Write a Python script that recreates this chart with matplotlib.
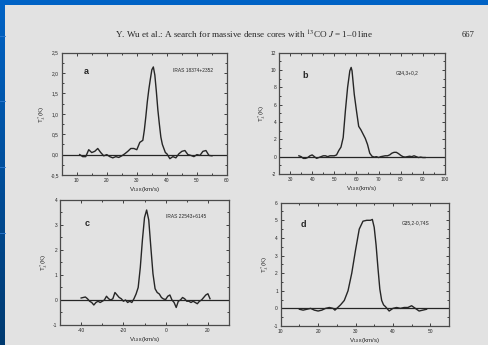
import numpy as np
import matplotlib
matplotlib.use('Agg')
import matplotlib.pyplot as plt
from matplotlib.colors import LinearSegmentedColormap
from matplotlib.patches import Rectangle
from matplotlib.ticker import MultipleLocator, FuncFormatter

plt.rcParams['font.family'] = ['Liberation Sans', 'DejaVu Sans']
plt.rcParams['mathtext.fontset'] = 'stix'

# spectra (velocity km/s, T_A* K)
va = [11, 12, 13, 14, 15, 16, 17, 18, 19, 20, 21, 22, 23, 24, 25, 26, 27, 28, 29, 30, 31, 32,
      32.5, 33, 33.5, 34, 34.5, 35, 35.5, 36, 36.5, 37, 37.5, 38, 38.5, 39, 39.5, 40,
      41, 42, 43, 44, 45, 46, 47, 48, 49, 50, 51, 52, 53, 54, 55]
ta = [0.0, -0.05, -0.05, 0.12, 0.05, 0.08, 0.15, 0.05, -0.03, 0.0, -0.05, -0.08, -0.05, -0.07, -0.03, 0.02, 0.08, 0.15, 0.15, 0.12, 0.3, 0.35,
      0.6, 0.93, 1.3, 1.6, 1.85, 2.08, 2.15, 1.95, 1.55, 1.1, 0.75, 0.43, 0.25, 0.15, 0.05, 0.02,
      -0.1, -0.05, -0.08, 0.02, 0.08, 0.1, 0.0, -0.02, -0.05, 0.0, -0.02, 0.08, 0.1, -0.02, -0.03]

vb = [34, 35, 36, 37, 38, 39, 40, 41, 42, 43, 44, 45, 46, 47, 48, 49, 50, 51,
      52, 53, 54, 55, 56, 57, 57.6, 58, 59, 60, 61, 62, 63, 64, 65, 66, 67,
      68, 69, 70, 71, 72, 73, 74, 75, 76, 77, 78, 79, 80, 81, 82, 83, 84, 85, 86, 87, 88, 89, 90, 91]
tb = [0.1, 0.0, -0.2, -0.2, -0.1, 0.1, 0.2, 0.0, -0.2, -0.1, 0.0, 0.1, 0.1, 0.0, 0.1, 0.1, 0.1, 0.2,
      0.7, 1.1, 2.2, 5.3, 8.0, 9.9, 10.3, 9.9, 7.2, 5.3, 3.5, 3.1, 2.6, 2.1, 1.4, 0.4, 0.05,
      -0.05, 0.0, -0.1, 0.0, 0.05, 0.1, 0.1, 0.2, 0.4, 0.5, 0.5, 0.35, 0.15, 0.0, -0.05, 0.0, 0.05, 0.0, 0.1, 0.0, -0.1, -0.05, -0.1, -0.1]

vc = [-40, -39, -38, -37, -36, -35, -34, -33, -32, -31, -30, -29, -28, -27, -26, -25, -24, -23, -22, -21, -20, -19, -18, -17, -16, -15,
      -14, -13, -12, -11, -10, -9, -8, -7, -6, -5, -4, -3, -2, -1, 0,
      1, 2, 3, 4, 5, 6, 7, 8, 9, 10, 11, 12, 13, 14, 15, 16, 17, 18, 19, 20, 21]
tc = [0.08, 0.1, 0.12, 0.05, -0.05, -0.1, -0.2, -0.1, -0.05, -0.1, -0.05, 0.0, 0.15, 0.05, 0.0, 0.05, 0.3, 0.2, 0.1, 0.05, -0.05, 0.0, -0.1, -0.05, -0.1, 0.05,
      0.24, 0.5, 1.3, 2.4, 3.3, 3.6, 3.2, 2.1, 1.05, 0.45, 0.3, 0.24, 0.1, 0.04, 0.02,
      0.15, 0.2, 0.0, -0.1, -0.3, -0.05, 0.0, 0.1, 0.05, -0.05, -0.05, -0.1, -0.05, -0.1, -0.15, -0.05, 0.0, 0.1, 0.2, 0.25, 0.05]

vd = [15, 16, 17, 18, 19, 20, 21, 22, 23, 24, 24.5, 25,
      26, 27, 28, 29, 30, 31, 32, 33, 34,
      34.5, 35, 35.5, 36, 36.5, 37, 37.5, 38,
      39, 40, 41, 42, 43, 44, 45, 46, 47, 48, 49]
td = [-0.05, -0.1, -0.05, 0.0, -0.1, -0.15, -0.1, 0.0, 0.05, 0.0, -0.1, 0.0,
      0.2, 0.45, 1.0, 2.0, 3.3, 4.5, 4.95, 5.0, 5.0,
      5.05, 4.6, 3.6, 2.3, 1.1, 0.45, 0.2, 0.1,
      -0.15, 0.0, 0.05, 0.0, 0.05, 0.05, 0.15, 0.0, -0.15, -0.1, -0.05]

panels = [
	dict(v=va, t=ta, pos=[0.1264, 0.4928, 0.3387, 0.3545], xlim=(5, 60), ylim=(-0.5, 2.5),
	     xmaj=10, xmin=5, ymaj=0.5, ymin=0.25, comma=True, tag='a', name='IRAS 18374+2352',
	     tagxy=(0.15, 0.845), namexy=(0.794, 0.858)),
	dict(v=vb, t=tb, pos=[0.5717, 0.4957, 0.3402, 0.3516], xlim=(25, 100), ylim=(-2, 12),
	     xmaj=10, xmin=5, ymaj=2, ymin=1, comma=False, tag='b', name='G34,3+0,2',
	     tagxy=(0.16, 0.816), namexy=(0.77, 0.835)),
	dict(v=vc, t=tc, pos=[0.1230, 0.0580, 0.3463, 0.3623], xlim=(-50, 30), ylim=(-1, 4),
	     xmaj=20, xmin=10, ymaj=1, ymin=0.5, comma=False, tag='c', name='IRAS 22543+6145',
	     tagxy=(0.158, 0.81), namexy=(0.746, 0.866)),
	dict(v=vd, t=td, pos=[0.5752, 0.0551, 0.3449, 0.3574], xlim=(10, 55), ylim=(-1, 6),
	     xmaj=10, xmin=5, ymaj=1, ymin=0.5, comma=False, tag='d', name='G35,2-0,74S',
	     tagxy=(0.134, 0.82), namexy=(0.804, 0.838)),
]

ink = '#262626'
page = '#e2e2e2'

fig = plt.figure(figsize=(4.88, 3.45), dpi=100)

# slide background: blue gradient with the page on top
bg = fig.add_axes([0, 0, 1, 1], zorder=-10)
blue = LinearSegmentedColormap.from_list('slide', ['#0063c6', '#003a70'])
bg.imshow(np.linspace(0, 1, 200).reshape(-1, 1), cmap=blue, aspect='auto', extent=[0, 1, 0, 1])
for yl in [0.896, 0.707, 0.516, 0.325]:
	bg.axhline(yl, xmax=5 / 488, color='#2f7ad0', lw=0.6)
bg.add_patch(Rectangle((5 / 488, 0), 1, 340 / 345, color=page, lw=0))
bg.set_xlim(0, 1)
bg.set_ylim(0, 1)
bg.axis('off')

fig.text(0.50, 0.899, 'Y. Wu et al.: A search for massive dense cores with $^{13}$CO $J$ = 1\u20130 line',
         family='Liberation Serif', fontsize=6.6, color=ink, ha='center', va='center')
fig.text(0.959, 0.899, '667', family='Liberation Serif', fontsize=6.2, color=ink, ha='center', va='center')

def comma_fmt(v, pos):
	return ('%.1f' % v).replace('.', ',')

def int_fmt(v, pos):
	return '%d' % round(v)

for p in panels:
	ax = fig.add_axes(p['pos'])
	ax.patch.set_alpha(0)
	ax.plot(p['v'], p['t'], color=ink, lw=1.0)
	ax.axhline(0, color=ink, lw=0.9)
	ax.set_xlim(*p['xlim'])
	ax.set_ylim(*p['ylim'])
	ax.xaxis.set_major_locator(MultipleLocator(p['xmaj']))
	ax.xaxis.set_minor_locator(MultipleLocator(p['xmin']))
	ax.yaxis.set_major_locator(MultipleLocator(p['ymaj']))
	ax.yaxis.set_minor_locator(MultipleLocator(p['ymin']))
	ax.xaxis.set_major_formatter(FuncFormatter(int_fmt))
	ax.yaxis.set_major_formatter(FuncFormatter(comma_fmt if p['comma'] else int_fmt))
	ax.tick_params(which='both', direction='in', top=True, right=True, labelsize=3.5,
	               colors=ink, width=0.6, pad=2)
	ax.tick_params(which='major', length=2)
	ax.tick_params(which='minor', length=1.5)
	for s in ax.spines.values():
		s.set_color('#4a4a4a')
		s.set_linewidth(0.9)
	ax.set_xlabel('V$_{\\rm LSR}$(km/s)', fontsize=4.4, color=ink, labelpad=1.5)
	ax.set_ylabel('T$_A^*$(K)', fontsize=4.4, color=ink, labelpad=2)
	ax.text(*p['tagxy'], p['tag'], transform=ax.transAxes, fontsize=6.5, fontweight='bold',
	        color=ink, ha='center', va='center')
	ax.text(*p['namexy'], p['name'], transform=ax.transAxes, fontsize=3.5,
	        color=ink, ha='center', va='center')

fig.savefig('out.png', dpi=100)
